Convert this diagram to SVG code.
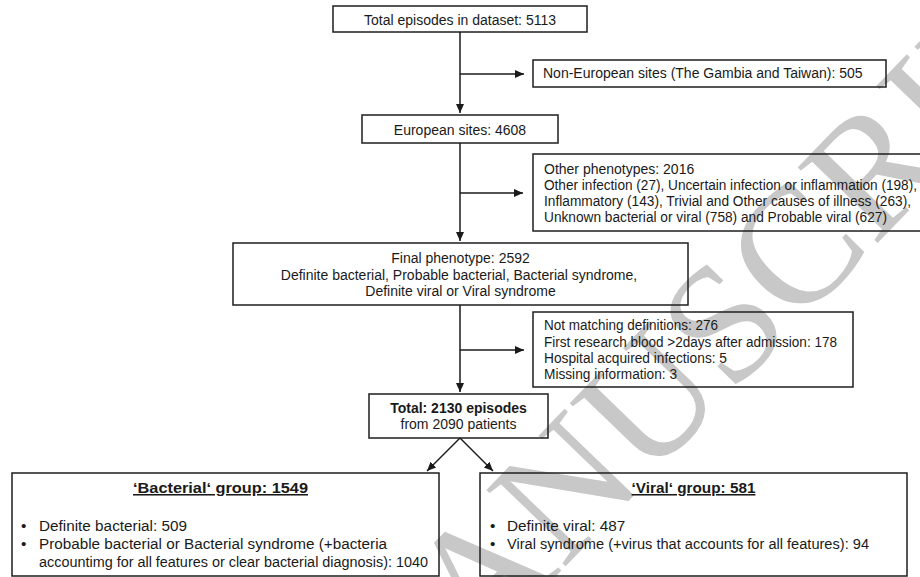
<svg xmlns="http://www.w3.org/2000/svg" width="920" height="577" viewBox="0 0 920 577">
<defs>
<style>
.bx{fill:none;stroke:#1e1e1e;stroke-width:1.5}
.t{font-family:"Liberation Sans",Arial,sans-serif;font-size:14px;fill:#1a1a1a}
.tl{font-family:"Liberation Sans",Arial,sans-serif;font-size:15.3px;fill:#1a1a1a}
.c{text-anchor:middle}
.b{font-weight:bold}
.u{text-decoration:underline}
.ln{fill:none;stroke:#1a1a1a;stroke-width:1.5}
.wm{font-family:"Liberation Serif","Times New Roman",serif;font-size:168px;fill:#c8c8c8}
</style>
<marker id="ah" markerUnits="userSpaceOnUse" markerWidth="10" markerHeight="10" viewBox="0 0 10 10" refX="9" refY="5" orient="auto">
<path d="M0,1 L9,5 L0,9 Z" fill="#1a1a1a"/>
</marker>
</defs>
<rect width="920" height="577" fill="#ffffff"/>
<text class="wm" x="-258" y="1419" transform="rotate(-46 -258 1419)">ACCEPTED MANUSCRIPT</text>

<g id="connectors">
<line class="ln" x1="460" y1="32" x2="460" y2="113" marker-end="url(#ah)"/>
<line class="ln" x1="460" y1="74" x2="524" y2="74" marker-end="url(#ah)"/>
<line class="ln" x1="460" y1="143" x2="460" y2="241" marker-end="url(#ah)"/>
<line class="ln" x1="460" y1="193" x2="523" y2="193" marker-end="url(#ah)"/>
<line class="ln" x1="460" y1="305" x2="460" y2="392" marker-end="url(#ah)"/>
<line class="ln" x1="460" y1="350" x2="524" y2="350" marker-end="url(#ah)"/>
<line class="ln" x1="460" y1="438" x2="427" y2="471" marker-end="url(#ah)"/>
<line class="ln" x1="460" y1="438" x2="493" y2="471" marker-end="url(#ah)"/>
</g>

<g id="total-dataset">
<rect class="bx" x="333" y="6" width="254" height="26"/>
<text class="t c" x="460" y="25">Total episodes in dataset: 5113</text>
</g>

<g id="non-european">
<rect class="bx" x="533" y="60" width="353" height="27"/>
<text class="t" x="543" y="78">Non-European sites (The Gambia and Taiwan): 505</text>
</g>

<g id="european">
<rect class="bx" x="362" y="115" width="196" height="28"/>
<text class="t c" x="460" y="135">European sites: 4608</text>
</g>

<g id="other-phenotypes">
<rect class="bx" x="533" y="154" width="400" height="77"/>
<text class="t" x="544" y="174">Other phenotypes: 2016</text>
<text class="t" x="544" y="190" textLength="373" lengthAdjust="spacingAndGlyphs">Other infection (27), Uncertain infection or inflammation (198),</text>
<text class="t" x="544" y="206" textLength="367" lengthAdjust="spacingAndGlyphs">Inflammatory (143), Trivial and Other causes of illness (263),</text>
<text class="t" x="544" y="222" textLength="343" lengthAdjust="spacingAndGlyphs">Unknown bacterial or viral (758) and Probable viral (627)</text>
</g>

<g id="final-phenotype">
<rect class="bx" x="233" y="243" width="455" height="62"/>
<text class="t c" x="460.5" y="263">Final phenotype: 2592</text>
<text class="t c" x="459" y="280">Definite bacterial, Probable bacterial, Bacterial syndrome,</text>
<text class="t c" x="460.5" y="296">Definite viral or Viral syndrome</text>
</g>

<g id="not-matching">
<rect class="bx" x="533" y="312" width="320" height="75"/>
<text class="t" x="544" y="330" textLength="174" lengthAdjust="spacingAndGlyphs">Not matching definitions: 276</text>
<text class="t" x="544" y="346.5" textLength="293" lengthAdjust="spacingAndGlyphs">First research blood &gt;2days after admission: 178</text>
<text class="t" x="544" y="363" textLength="183" lengthAdjust="spacingAndGlyphs">Hospital acquired infections: 5</text>
<text class="t" x="544" y="379" textLength="133" lengthAdjust="spacingAndGlyphs">Missing information: 3</text>
</g>

<g id="total-episodes">
<rect class="bx" x="369" y="394" width="179" height="44"/>
<text class="t c b" x="458.5" y="413">Total: 2130 episodes</text>
<text class="t c" x="458.5" y="429">from 2090 patients</text>
</g>

<g id="bacterial-group">
<rect class="bx" x="12" y="473" width="427" height="103"/>
<text class="tl c b u" x="220.5" y="493" textLength="175" lengthAdjust="spacingAndGlyphs">‘Bacterial‘ group: 1549</text>
<text class="tl" x="21" y="531">•</text>
<text class="tl" x="39" y="531">Definite bacterial: 509</text>
<text class="tl" x="21" y="549">•</text>
<text class="tl" x="39" y="549" textLength="348" lengthAdjust="spacingAndGlyphs">Probable bacterial or Bacterial syndrome (+bacteria</text>
<text class="tl" x="39" y="567" textLength="389" lengthAdjust="spacingAndGlyphs">accountimg for all features or clear bacterial diagnosis): 1040</text>
</g>

<g id="viral-group">
<rect class="bx" x="480" y="473" width="427" height="103"/>
<text class="tl c b u" x="693.5" y="493">‘Viral‘ group: 581</text>
<text class="tl" x="490" y="531">•</text>
<text class="tl" x="507" y="531">Definite viral: 487</text>
<text class="tl" x="490" y="549">•</text>
<text class="tl" x="507" y="549" textLength="362" lengthAdjust="spacingAndGlyphs">Viral syndrome (+virus that accounts for all features): 94</text>
</g>
</svg>
